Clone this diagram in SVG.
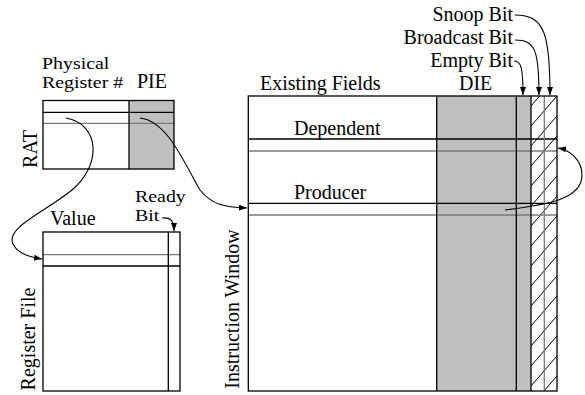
<svg xmlns="http://www.w3.org/2000/svg" width="585" height="395" viewBox="0 0 585 395">
<style>
.t{font-family:"Liberation Serif","Times New Roman",serif;font-size:20px;fill:#000}
.s{font-family:"Liberation Serif","Times New Roman",serif;font-size:17px;fill:#000}
.b{stroke:#000;stroke-width:1.3;fill:none}
.g{stroke:#7a7a7a;stroke-width:1.3;fill:none}
.sh{fill:#bfbfbf}
.c{stroke:#000;stroke-width:1.1;fill:none}
.h{stroke:#000;stroke-width:1}
</style>
<defs>
<marker id="ah" viewBox="0 0 8 6" refX="8" refY="3" markerWidth="8" markerHeight="6" markerUnits="userSpaceOnUse" orient="auto">
<path d="M0,0 L8,3 L0,6 z" fill="#000"/>
</marker>
<clipPath id="hc"><rect x="531" y="96" width="26" height="295"/></clipPath>
</defs>
<rect width="585" height="395" fill="#fff"/>

<g id="rat">
<rect class="sh" x="129" y="100.5" width="45" height="68.5"/>
<line class="b" x1="43" y1="112.3" x2="174" y2="112.3"/>
<line class="g" x1="43" y1="123.3" x2="174" y2="123.3"/>
<line class="b" x1="129" y1="100.5" x2="129" y2="169"/>
<rect class="b" x="43" y="100.5" width="131" height="68.5"/>
<text class="s" transform="translate(42,69) scale(1.17,1)">Physical</text>
<text class="s" transform="translate(42,88) scale(1.17,1)">Register #</text>
<text class="t" x="137" y="88">PIE</text>
<text class="t" transform="translate(36.5,149) rotate(-90)" text-anchor="middle">RAT</text>
</g>

<g id="register-file">
<line class="g" x1="43" y1="254.7" x2="180" y2="254.7"/>
<line class="b" x1="43" y1="266" x2="180" y2="266"/>
<line class="b" x1="168.3" y1="232" x2="168.3" y2="391"/>
<rect class="b" x="43" y="232" width="137" height="159"/>
<text class="t" x="50" y="225">Value</text>
<text class="s" transform="translate(135,202) scale(1.17,1)">Ready</text>
<text class="s" transform="translate(135,221) scale(1.17,1)">Bit</text>
<text class="t" transform="translate(35,339) rotate(-90)" text-anchor="middle">Register File</text>
</g>

<g id="instruction-window">
<rect class="sh" x="436.7" y="96" width="94.3" height="295"/>
<g clip-path="url(#hc)">
<line class="h" x1="531" y1="106" x2="557" y2="76"/>
<line class="h" x1="531" y1="126" x2="557" y2="96"/>
<line class="h" x1="531" y1="146" x2="557" y2="116"/>
<line class="h" x1="531" y1="166" x2="557" y2="136"/>
<line class="h" x1="531" y1="186" x2="557" y2="156"/>
<line class="h" x1="531" y1="206" x2="557" y2="176"/>
<line class="h" x1="531" y1="226" x2="557" y2="196"/>
<line class="h" x1="531" y1="246" x2="557" y2="216"/>
<line class="h" x1="531" y1="266" x2="557" y2="236"/>
<line class="h" x1="531" y1="286" x2="557" y2="256"/>
<line class="h" x1="531" y1="306" x2="557" y2="276"/>
<line class="h" x1="531" y1="326" x2="557" y2="296"/>
<line class="h" x1="531" y1="346" x2="557" y2="316"/>
<line class="h" x1="531" y1="366" x2="557" y2="336"/>
<line class="h" x1="531" y1="386" x2="557" y2="356"/>
<line class="h" x1="531" y1="406" x2="557" y2="376"/>
<line class="h" x1="531" y1="426" x2="557" y2="396"/>
</g>
<line class="b" x1="248.3" y1="139" x2="557" y2="139"/>
<line class="g" x1="248.3" y1="151" x2="557" y2="151"/>
<line class="b" x1="248.3" y1="203.3" x2="557" y2="203.3"/>
<line class="g" x1="248.3" y1="215" x2="557" y2="215"/>
<line class="b" x1="436.7" y1="96" x2="436.7" y2="391"/>
<line class="b" x1="516.3" y1="96" x2="516.3" y2="391"/>
<line class="b" x1="531" y1="96" x2="531" y2="391"/>
<line class="g" x1="544.3" y1="96" x2="544.3" y2="391"/>
<rect class="b" x="248.3" y="96" width="308.7" height="295"/>
<text class="t" x="260" y="90">Existing Fields</text>
<text class="t" x="459" y="90">DIE</text>
<text class="t" x="294" y="135">Dependent</text>
<text class="t" x="294" y="199">Producer</text>
<text class="t" x="513" y="67" text-anchor="end">Empty Bit</text>
<text class="t" x="513" y="44" text-anchor="end">Broadcast Bit</text>
<text class="t" x="513" y="21" text-anchor="end">Snoop Bit</text>
<text class="t" transform="translate(239,309) rotate(-90)" text-anchor="middle">Instruction Window</text>
</g>

<g id="connectors">
<path class="c" marker-end="url(#ah)" d="M66,118 C100,124 102,165 72,190 C45,212 5,228 13,244 C18,254 30,257 42,259"/>
<path class="c" marker-end="url(#ah)" d="M140,118 C168,121 185,165 200,190 C212,205 224,207 247,208"/>
<path class="c" marker-end="url(#ah)" d="M505,210 C545,205 582,200 582,175 C582,160 570,150 558,148"/>
<path class="c" marker-end="url(#ah)" d="M162,218 C170,217 174,220 174,231"/>
<path class="c" marker-end="url(#ah)" d="M514,61 C520,61 523,64 523,95"/>
<path class="c" marker-end="url(#ah)" d="M515,40 C535,40 539,50 539,95"/>
<path class="c" marker-end="url(#ah)" d="M515,15 C545,15 550,35 550,95"/>
</g>
</svg>
